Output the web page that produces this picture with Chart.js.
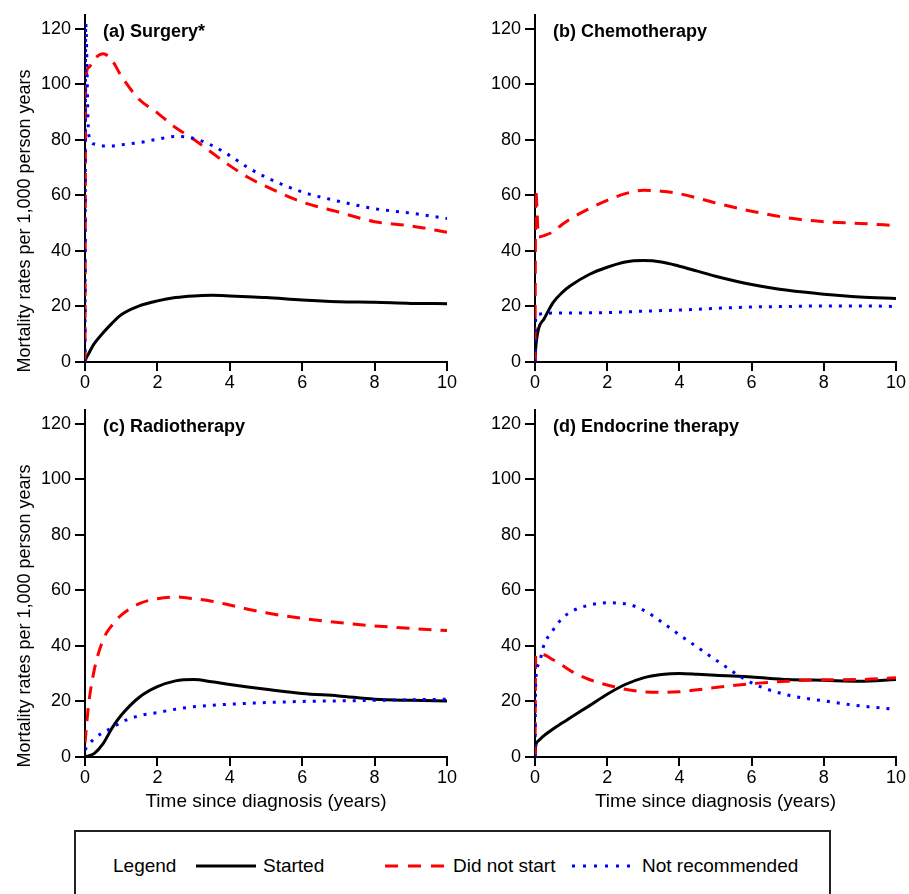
<!DOCTYPE html>
<html>
<head>
<meta charset="utf-8">
<script src="https://cdn.jsdelivr.net/npm/chart.js@4"></script>
<style>
  body { margin: 0; background: #fff; font-family: 'Liberation Sans', Arial, sans-serif; }
  #page { position: relative; width: 909px; height: 894px; overflow: hidden; }
  canvas { position: absolute; }
  #legend { position: absolute; left: 74px; top: 830px; width: 757px; height: 100px; border: 2px solid #222; box-sizing: border-box; }
  .lg { position: absolute; top: 854px; font-size: 19px; line-height: 24px; color: #000; white-space: nowrap; }
  .lgline { position: absolute; top: 860px; }
</style>
</head>
<body>
<div id="page">
  <canvas id="chartA" width="460" height="395" style="left:0;top:0"></canvas>
  <canvas id="chartB" width="459" height="395" style="left:450px;top:0"></canvas>
  <canvas id="chartC" width="460" height="430" style="left:0;top:395px"></canvas>
  <canvas id="chartD" width="459" height="430" style="left:450px;top:395px"></canvas>

  <div id="legend"></div>
  <div class="lg" style="left:113px">Legend</div>
  <svg class="lgline" style="left:196px" width="62" height="12"><line x1="0" y1="6" x2="60" y2="6" stroke="#000" stroke-width="3"/></svg>
  <div class="lg" style="left:263px">Started</div>
  <svg class="lgline" style="left:385px" width="64" height="12"><line x1="0" y1="6" x2="62" y2="6" stroke="#f00" stroke-width="3" stroke-dasharray="13 10"/></svg>
  <div class="lg" style="left:453px">Did not start</div>
  <svg class="lgline" style="left:572px" width="60" height="12"><line x1="0" y1="6" x2="58" y2="6" stroke="#00f" stroke-width="3" stroke-dasharray="3 8"/></svg>
  <div class="lg" style="left:642px">Not recommended</div>
</div>

<script>
// time since diagnosis (years)
const times = [0, 0.02, 0.1, 0.25, 0.5, 0.75, 1, 1.5, 2, 2.5, 3, 3.5, 4, 4.5, 5, 6, 7, 8, 9, 10];

// (a) Surgery*
const surgeryStarted = [0, 1, 3, 6.5, 10.5, 14, 17, 20.2, 22, 23.2, 23.8, 24, 23.8, 23.5, 23.2, 22.3, 21.7, 21.5, 21.1, 21];
const surgeryNotStart = [0, 100, 106, 109, 111, 108.5, 103, 94.5, 89.7, 84.4, 80.2, 75.4, 70.7, 66.5, 63.2, 57.6, 54, 50.5, 49, 46.7];
const surgeryNotRec = [0, 122, 82, 78.5, 77.8, 77.8, 78.2, 79, 80.2, 81.2, 80.5, 78, 74.3, 70, 66.5, 61.2, 57.9, 55.2, 53.6, 51.7];

// (b) Chemotherapy
const chemoStarted = [0, 5, 12, 15.5, 21.4, 25, 27.6, 31.5, 34.1, 36, 36.5, 36, 34.5, 32.7, 30.9, 27.9, 25.8, 24.4, 23.4, 22.9];
const chemoNotStart = [0, 62, 45, 45.5, 46.9, 49.5, 51.7, 55.2, 58.2, 60.6, 61.8, 61.5, 60.6, 59, 57.3, 54.3, 51.9, 50.5, 49.9, 49.1];
const chemoNotRec = [0, 16.5, 17.2, 17.5, 17.6, 17.6, 17.6, 17.7, 17.8, 18, 18.3, 18.5, 18.7, 19, 19.3, 19.8, 20, 20.2, 20.2, 20];

// (c) Radiotherapy
const radioStarted = [0, 0.1, 0.4, 1.2, 4.8, 10.5, 15, 21.5, 25.3, 27.4, 27.9, 27.1, 26.1, 25.2, 24.4, 22.9, 22, 20.8, 20.4, 20.2];
const radioNotStart = [5, 8, 19, 31, 42.2, 47.5, 51.1, 55.2, 57, 57.6, 57, 56.1, 54.7, 53.2, 51.9, 49.9, 48.4, 47.2, 46.3, 45.5];
const radioNotRec = [2.5, 3, 4.5, 6.5, 8.9, 10.5, 12.5, 14.9, 16, 17.2, 18.1, 18.6, 19, 19.3, 19.6, 20, 20.2, 20.4, 20.6, 20.8];

// (d) Endocrine therapy
const endoStarted = [0, 4, 5.9, 7.7, 10.1, 12.2, 14.3, 18.4, 22.6, 26.1, 28.5, 29.7, 30.1, 29.8, 29.4, 28.8, 27.9, 27.6, 27.3, 27.9];
const endoNotStart = [0, 36.8, 37, 36.8, 35, 33, 30.9, 27.9, 25.9, 24.4, 23.5, 23.3, 23.5, 24.2, 25, 26.4, 27.3, 27.8, 27.9, 28.5];
const endoNotRec = [0, 27, 33.3, 40.4, 45.7, 49.9, 52.3, 54.7, 55.5, 55.2, 52.9, 48.7, 44, 39.5, 35, 26.7, 22.3, 20.2, 18.4, 17.2];

const xTicks = [0, 2, 4, 6, 8, 10];
const yTicks = [0, 20, 40, 60, 80, 100, 120];

const FONT = "'Liberation Sans', Arial, sans-serif";

function toPoints(values) {
    return values.map((v, i) => ({ x: times[i], y: v }));
}

// panel label + y-axis title, drawn as text on the canvas
const panelText = {
    id: 'panelText',
    afterDraw(chart, args, opts) {
        const ctx = chart.ctx;
        ctx.save();
        ctx.fillStyle = '#000';
        ctx.textBaseline = 'middle';
        ctx.font = 'bold 18px ' + FONT;
        ctx.fillText(opts.label, chart.chartArea.left + 18, 32);
        if (opts.yTitle) {
            ctx.font = '18px ' + FONT;
            ctx.translate(25, 221);
            ctx.rotate(-Math.PI / 2);
            ctx.textAlign = 'center';
            ctx.fillText('Mortality rates per 1,000 person years', 0, 0);
        }
        ctx.restore();
    }
};

function makePanel(id, label, started, notStart, notRec, yTitle, xTitle) {
    const canvas = document.getElementById(id);
    const H = canvas.height;
    return new Chart(canvas.getContext('2d'), {
        type: 'line',
        data: {
            datasets: [
                {
                    label: 'Not recommended',
                    data: toPoints(notRec),
                    borderColor: '#0000ff',
                    borderWidth: 3,
                    borderDash: [3, 7],
                    cubicInterpolationMode: 'monotone'
                },
                {
                    label: 'Did not start',
                    data: toPoints(notStart),
                    borderColor: '#ff0000',
                    borderWidth: 3,
                    borderDash: [13, 9],
                    cubicInterpolationMode: 'monotone'
                },
                {
                    label: 'Started',
                    data: toPoints(started),
                    borderColor: '#000000',
                    borderWidth: 3,
                    cubicInterpolationMode: 'monotone'
                }
            ]
        },
        options: {
            responsive: false,
            animation: false,
            layout: { padding: { top: 11, right: 13, left: 0, bottom: 0 } },
            elements: { point: { radius: 0 } },
            plugins: {
                legend: { display: false },
                tooltip: { enabled: false },
                panelText: { label: label, yTitle: yTitle }
            },
            scales: {
                x: {
                    type: 'linear',
                    min: 0,
                    max: 10,
                    afterBuildTicks: s => { s.ticks = xTicks.map(v => ({ value: v })); },
                    afterFit: s => { s.height = H - 362; },
                    ticks: { color: '#000', font: { size: 18, family: FONT }, padding: 1, maxRotation: 0 },
                    grid: { drawOnChartArea: false, color: '#000', lineWidth: 2, tickLength: 9 },
                    border: { color: '#000', width: 2 },
                    title: {
                        display: xTitle,
                        text: 'Time since diagnosis (years)',
                        color: '#000',
                        font: { size: 19, family: FONT },
                        padding: { top: 0, bottom: 12 }
                    }
                },
                y: {
                    min: 0,
                    max: 125,
                    afterBuildTicks: s => { s.ticks = yTicks.map(v => ({ value: v })); },
                    afterFit: s => { s.width = 85; },
                    ticks: { color: '#000', font: { size: 18, family: FONT }, padding: 4 },
                    grid: { drawOnChartArea: false, color: '#000', lineWidth: 2, tickLength: 10 },
                    border: { color: '#000', width: 2 }
                }
            }
        },
        plugins: [panelText]
    });
}

makePanel('chartA', '(a) Surgery*', surgeryStarted, surgeryNotStart, surgeryNotRec, true, false);
makePanel('chartB', '(b) Chemotherapy', chemoStarted, chemoNotStart, chemoNotRec, false, false);
makePanel('chartC', '(c) Radiotherapy', radioStarted, radioNotStart, radioNotRec, true, true);
makePanel('chartD', '(d) Endocrine therapy', endoStarted, endoNotStart, endoNotRec, false, true);
</script>
</body>
</html>
